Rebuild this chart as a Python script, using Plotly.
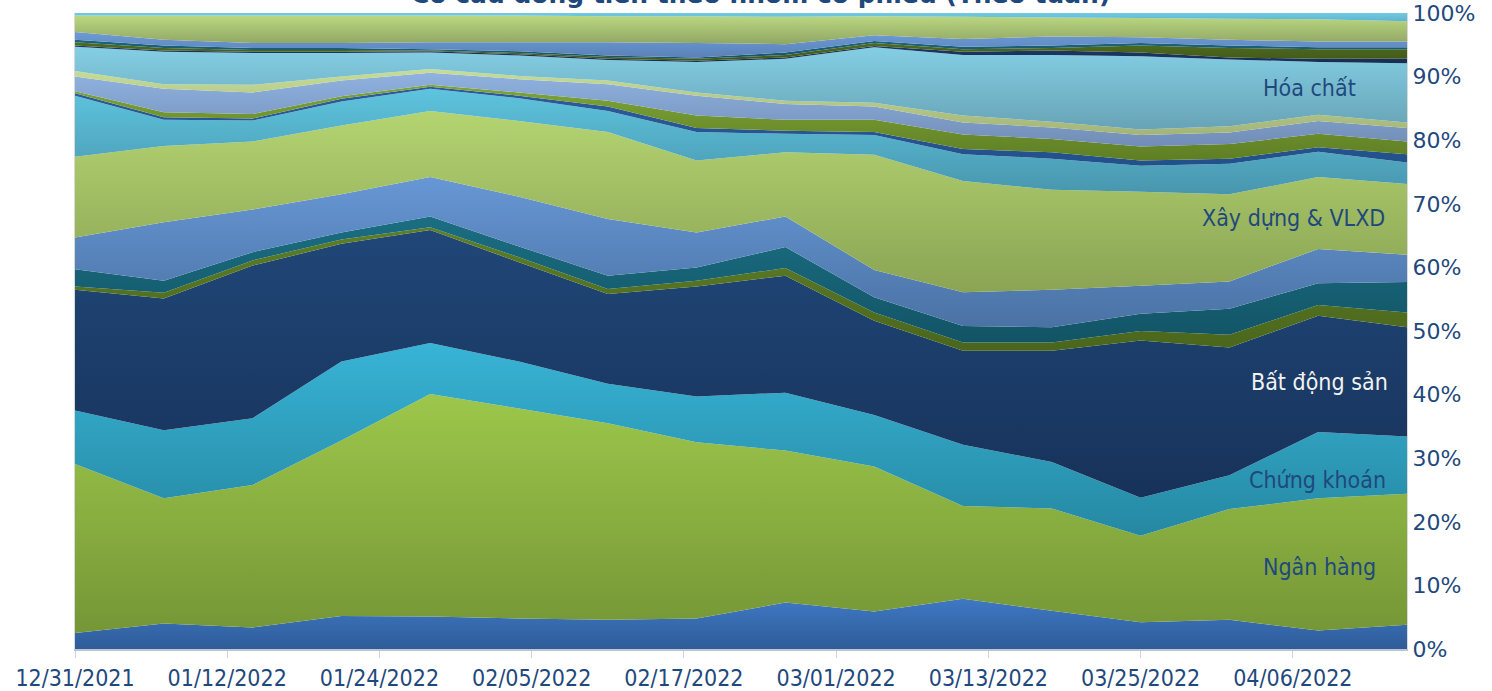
import plotly.graph_objects as go

# Weekly observation dates
weeks = [
    "2021-12-31", "2022-01-07", "2022-01-14", "2022-01-21", "2022-01-28",
    "2022-02-04", "2022-02-11", "2022-02-18", "2022-02-25", "2022-03-04",
    "2022-03-11", "2022-03-18", "2022-03-25", "2022-04-01", "2022-04-08",
    "2022-04-15",
]

# Date ticks on the x axis (every 12 days)
axis_ticks = [
    "2021-12-31", "2022-01-12", "2022-01-24", "2022-02-05", "2022-02-17",
    "2022-03-01", "2022-03-13", "2022-03-25", "2022-04-06",
]

# Share of weekly money flow by stock group (%), bottom layer first
cong_nghe    = [2.5, 4.0, 3.4, 5.2, 5.1, 4.8, 4.6, 4.8, 7.3, 5.9, 7.9, 6.0, 4.2, 4.6, 2.9, 3.8]
ngan_hang    = [26.6, 19.7, 22.4, 27.6, 35.0, 33.0, 30.9, 27.7, 23.9, 22.8, 14.6, 16.1, 13.6, 17.4, 20.8, 20.6]
chung_khoan  = [8.4, 10.7, 10.5, 12.4, 8.0, 7.4, 6.2, 7.2, 9.1, 8.1, 9.6, 7.3, 6.0, 5.3, 10.4, 9.0]
bat_dong_san = [19.0, 20.7, 24.0, 18.5, 17.8, 15.6, 14.1, 17.3, 18.4, 14.8, 14.8, 17.5, 24.7, 20.1, 18.3, 17.2]
cao_su       = [0.5, 0.9, 0.8, 0.7, 0.4, 0.8, 0.8, 0.9, 1.2, 1.3, 1.3, 1.3, 1.5, 2.0, 1.7, 2.3]
van_tai      = [2.7, 1.9, 1.3, 1.1, 1.7, 1.7, 2.1, 2.1, 3.3, 2.4, 2.6, 2.4, 2.7, 4.1, 3.4, 4.8]
thep         = [5.0, 9.2, 6.7, 6.0, 6.2, 7.8, 8.9, 5.5, 4.8, 4.3, 5.3, 5.9, 4.4, 4.3, 5.4, 4.3]
xay_dung     = [12.7, 12.0, 10.7, 10.8, 10.4, 11.9, 13.7, 11.3, 10.1, 18.1, 17.5, 15.7, 14.8, 13.7, 11.3, 11.1]
dau_khi      = [9.6, 4.1, 3.3, 3.8, 3.5, 3.6, 3.3, 4.5, 2.9, 3.1, 4.2, 4.9, 4.1, 4.8, 4.0, 3.4]
dien_nuoc    = [0.4, 0.4, 0.3, 0.4, 0.3, 0.4, 0.7, 0.6, 0.5, 0.5, 0.8, 1.0, 0.8, 0.8, 0.7, 1.3]
thuc_pham    = [0.3, 0.8, 0.7, 0.4, 0.3, 0.5, 0.9, 2.0, 1.7, 1.9, 2.3, 2.1, 2.2, 2.3, 2.1, 2.0]
ban_le       = [2.3, 3.7, 3.4, 2.5, 1.9, 2.1, 2.6, 3.1, 2.5, 2.1, 1.9, 1.8, 1.8, 1.8, 2.0, 2.1]
bao_hiem     = [0.9, 0.7, 1.2, 0.6, 0.6, 0.5, 0.6, 0.5, 0.5, 0.6, 1.1, 0.9, 0.9, 1.0, 1.0, 0.9]
hoa_chat     = [3.8, 5.1, 5.0, 3.7, 2.6, 3.2, 3.2, 4.8, 6.6, 8.7, 9.5, 10.5, 11.5, 10.5, 8.3, 9.3]
thuy_san     = [0.2, 0.2, 0.2, 0.2, 0.2, 0.2, 0.2, 0.2, 0.2, 0.2, 0.5, 0.7, 0.6, 0.3, 0.5, 0.7]
det_may      = [0.5, 0.4, 0.3, 0.3, 0.1, 0.2, 0.3, 0.3, 0.4, 0.5, 0.4, 0.4, 1.1, 1.5, 1.5, 1.5]
duoc_pham    = [0.4, 0.4, 0.3, 0.3, 0.2, 0.3, 0.2, 0.2, 0.4, 0.3, 0.4, 0.4, 0.4, 0.4, 0.3, 0.3]
hang_khong   = [1.2, 0.9, 0.8, 0.8, 1.1, 1.4, 2.1, 2.3, 1.3, 0.9, 1.2, 1.4, 0.9, 0.9, 0.9, 0.9]
tien_ich     = [2.6, 3.8, 4.3, 4.3, 4.2, 4.2, 4.1, 4.2, 4.3, 3.0, 3.5, 3.0, 3.0, 3.3, 3.5, 3.2]
khac         = [0.4, 0.4, 0.4, 0.4, 0.4, 0.4, 0.5, 0.5, 0.6, 0.5, 0.6, 0.7, 0.8, 0.9, 1.0, 1.3]

# (name, values, top colour, bottom colour) — vertical gradient per layer
layers = [
    ("Công nghệ", cong_nghe, "#3F78C4", "#2E5C98"),
    ("Ngân hàng", ngan_hang, "#9DC74B", "#759636"),
    ("Chứng khoán", chung_khoan, "#38B4D6", "#2588A2"),
    ("Bất động sản", bat_dong_san, "#204778", "#17325A"),
    ("Cao su", cao_su, "#5E7E26", "#4A661C"),
    ("Vận tải", van_tai, "#1B6E82", "#125466"),
    ("Thép", thep, "#6797D5", "#4A72A4"),
    ("Xây dựng & VLXD", xay_dung, "#B4D471", "#8AA454"),
    ("Dầu khí", dau_khi, "#5EC4DE", "#4896AE"),
    ("Điện nước", dien_nuoc, "#2C5C9E", "#22508A"),
    ("Thực phẩm", thuc_pham, "#7DA537", "#5F7E24"),
    ("Bán lẻ", ban_le, "#90B2E0", "#718DB6"),
    ("Bảo hiểm", bao_hiem, "#C6DD97", "#A3B478"),
    ("Hóa chất", hoa_chat, "#84CFE5", "#68A3B6"),
    ("Thủy sản", thuy_san, "#1C3A68", "#162E55"),
    ("Dệt may", det_may, "#4F6C1F", "#42591A"),
    ("Dược phẩm", duoc_pham, "#1C667A", "#16576A"),
    ("Hàng không", hang_khong, "#6D9AD6", "#5A82B8"),
    ("Tiện ích", tien_ich, "#BBD880", "#90A665"),
    ("Khác", khac, "#70CBE3", "#5FB4CC"),
]

fig = go.Figure()

base = [0.0] * len(weeks)
for name, vals, top, bottom in layers:
    lower = base
    base = [b + v for b, v in zip(base, vals)]
    fig.add_trace(go.Scatter(
        x=weeks, y=vals, name=name, stackgroup="flow", groupnorm="percent",
        mode="none", fillcolor=top,
        fillgradient=dict(
            type="vertical",
            colorscale=[[0, bottom], [1, top]],
            start=min(lower), stop=max(base),
        ),
        hovertemplate="%{x|%m/%d/%Y}: %{y:.1f}%<extra>" + name + "</extra>",
    ))

label_color = "#1F497D"
label_font = "DejaVu Sans Condensed, DejaVu Sans, sans-serif"

# In-area group labels
area_labels = [
    ("Hóa chất", 0.927, 88.2, label_color),
    ("Xây dựng & VLXD", 0.915, 67.8, label_color),
    ("Bất động sản", 0.934, 42.0, "#F2F2F2"),
    ("Chứng khoán", 0.933, 26.6, label_color),
    ("Ngân hàng", 0.934, 12.9, label_color),
]
for text, px, py, col in area_labels:
    fig.add_annotation(
        x=px, xref="paper", y=py, yref="y", text=text, showarrow=False,
        xanchor="center", yanchor="middle",
        font=dict(family=label_font, size=23, color=col),
    )

# Title (sits just above the plot area, partly beyond the top edge)
fig.add_annotation(
    x=0.515, xref="paper", y=1, yref="paper", yshift=2,
    text="<b>Cơ cấu dòng tiền theo nhóm cổ phiếu (Theo tuần)</b>",
    showarrow=False, xanchor="center", yanchor="bottom",
    font=dict(family="DejaVu Sans, sans-serif", size=25, color=label_color),
)

fig.update_layout(
    width=1492, height=691,
    margin=dict(l=75, r=85, t=13, b=42),
    paper_bgcolor="white", plot_bgcolor="white",
    showlegend=False,
    xaxis=dict(
        type="date", range=[weeks[0], weeks[-1]], automargin=False,
        tickvals=axis_ticks, tickformat="%m/%d/%Y",
        tickfont=dict(family=label_font, size=23, color=label_color),
        ticks="outside", ticklen=7, tickcolor="#C9D6EA", tickwidth=1,
        showline=True, linecolor="#BCC6D3", linewidth=2,
        showgrid=False, zeroline=False,
    ),
    yaxis=dict(
        side="right", range=[0, 100], dtick=10, ticksuffix="%", automargin=False,
        tickfont=dict(family="DejaVu Sans, sans-serif", size=22, color=label_color),
        showgrid=False, zeroline=False, showline=True,
        linecolor="#D9D9D9", linewidth=1, mirror=True,
    ),
)

fig.write_html("out.html")
